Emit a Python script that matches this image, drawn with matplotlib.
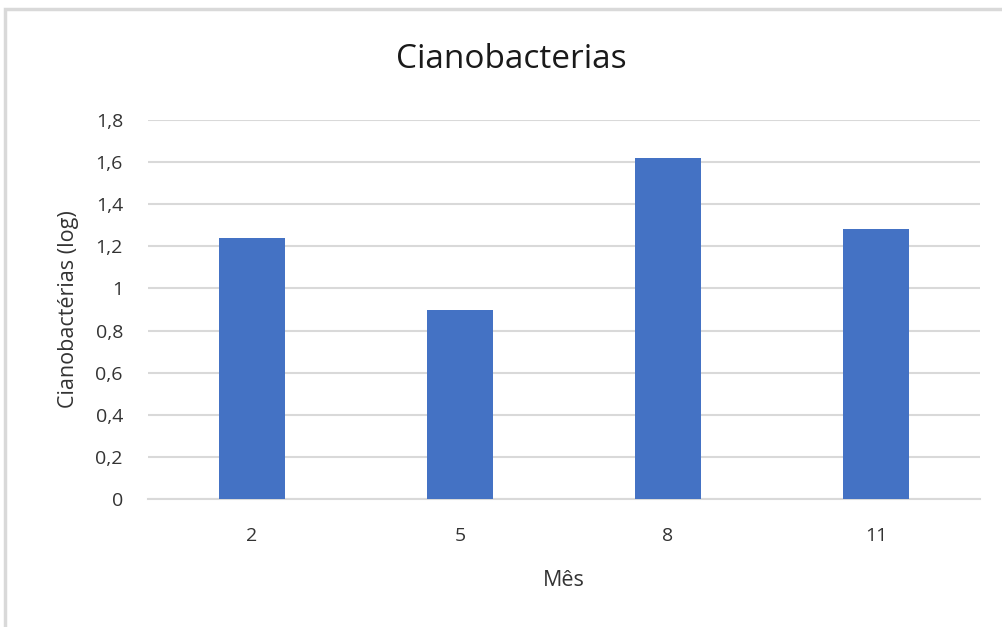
import matplotlib
matplotlib.use("Agg")
import matplotlib.pyplot as plt
from matplotlib.patches import Rectangle

months = ["2", "5", "8", "11"]
values = [1.24, 0.90, 1.62, 1.28]
yticks = [0, 0.2, 0.4, 0.6, 0.8, 1.0, 1.2, 1.4, 1.6, 1.8]
ytick_labels = ["0", "0,2", "0,4", "0,6", "0,8", "1", "1,2", "1,4", "1,6", "1,8"]

plt.rcParams['font.family'] = ['Open Sans', 'DejaVu Sans']

W, H = 1003, 627
fig = plt.figure(figsize=(W/100, H/100), dpi=100)
fig.patches.append(Rectangle((5/W, -0.1), 1.2, 1 - 9/H + 0.1, transform=fig.transFigure,
                             fill=False, edgecolor='#d9d9d9', linewidth=2.5))

ax = fig.add_axes([148/W, 1 - 499/H, (980-148)/W, (499-120)/H])
x = range(len(months))
ax.bar(x, values, width=0.32, color='#4472c4', zorder=3)
ax.set_xlim(-0.5, 3.5)
ax.set_ylim(0, 1.8)
ax.set_yticks(yticks)
ax.set_yticklabels(ytick_labels)
ax.set_xticks(list(x))
ax.set_xticklabels(months)
ax.grid(axis='y', color='#d9d9d9', linewidth=1.5, zorder=0)
for s in ['top', 'right', 'left']:
    ax.spines[s].set_visible(False)
ax.spines['bottom'].set_color('#d9d9d9')
ax.spines['bottom'].set_linewidth(1.5)
ax.tick_params(axis='both', length=0, labelsize=14, colors='#333333')
ax.tick_params(axis='x', pad=20)
ax.tick_params(axis='y', pad=18)
ax.set_xlabel("Mês", fontsize=15.5, color='#333333', labelpad=18)
ax.set_ylabel("Cianobactérias (log)", fontsize=15.5, color='#333333', labelpad=12)
fig.text(511/W, 1 - 59/H, "Cianobacterias", ha='center', va='center', fontsize=24, color='#1a1a1a')

fig.savefig("out.png", dpi=100)
